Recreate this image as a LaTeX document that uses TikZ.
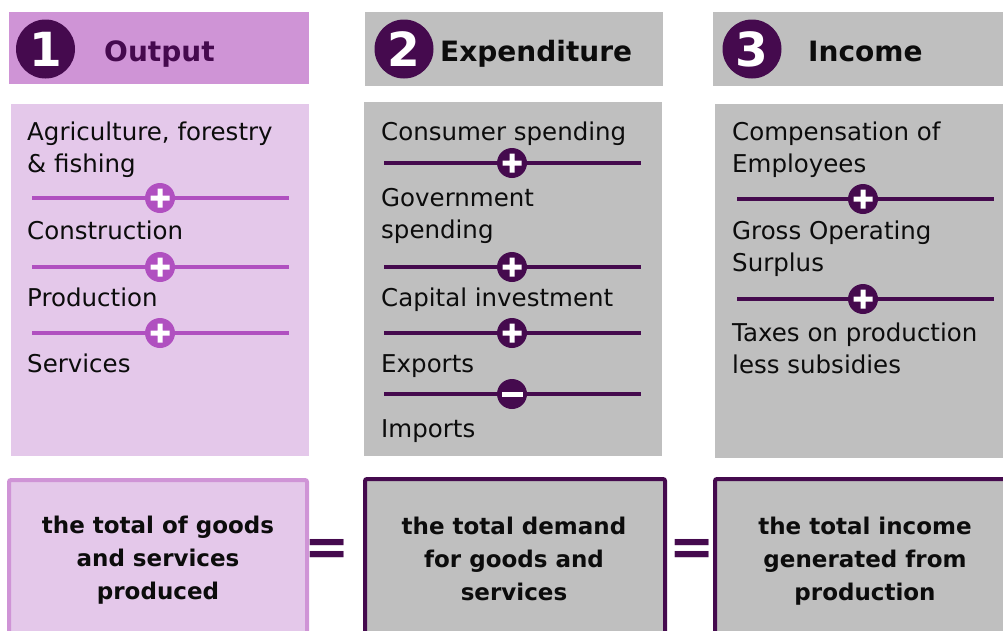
\documentclass[tikz,border=0pt]{standalone}
\usepackage{fontspec}
\setmainfont{DejaVu Sans}
\definecolor{plum}{RGB}{69,10,78}
\definecolor{orchid}{RGB}{207,148,214}
\definecolor{lilac}{RGB}{228,200,234}
\definecolor{violet}{RGB}{176,80,192}
\definecolor{panelgray}{RGB}{191,191,191}
\definecolor{ink}{RGB}{12,12,12}

\begin{document}
\begin{tikzpicture}[x=1pt,y=-1pt,
  item/.style={anchor=base west, inner sep=0pt, text=ink,
    font=\fontsize{24.5}{32}\selectfont},
  total/.style={anchor=base, inner sep=0pt, text=ink,
    font=\bfseries\fontsize{23}{33}\selectfont},
  head/.style={anchor=base west, inner sep=0pt,
    font=\bfseries\fontsize{28}{32}\selectfont},
  numdisc/.style={circle, fill=plum, minimum size=59pt, inner sep=0pt,
    text=white, font=\bfseries\fontsize{47}{47}\selectfont},
  eqsign/.style={inner sep=0pt, text=plum,
    font=\bfseries\fontsize{54}{54}\selectfont},
  sepline/.style={line width=4.5pt},
  opdisc/.style={circle, minimum size=30pt, inner sep=0pt},
  plussign/.style={opdisc, path picture={
    \fill[white, shift={(path picture bounding box.center)}]
      (-9.5,-2.5) rectangle (9.5,2.5) (-2.5,-9.5) rectangle (2.5,9.5);}},
  minussign/.style={opdisc, path picture={
    \fill[white, shift={(path picture bounding box.center)}]
      (-10.5,-2.5) rectangle (10.5,2.5);}}
]
\useasboundingbox (0,0) rectangle (1003,630);
\clip (0,0) rectangle (1003,630);

% ---------- column headers ----------
\fill[orchid] (9,12) rectangle (309,84);
\fill[panelgray] (365,12) rectangle (663,86);
\fill[panelgray] (713,12) rectangle (1010,86);
\node[numdisc] (n1) at (45.5,49) {1};
\node[numdisc] (n2) at (404,49) {2};
\node[numdisc] (n3) at (752,49) {3};
\node[head, text=plum] (t1) at (104,61) {Output};
\node[head, text=ink] (t2) at (440,61) {Expenditure};
\node[head, text=ink] (t3) at (808,61) {Income};

% ---------- component panels ----------
\fill[lilac] (11,104) rectangle (309,456);
\fill[panelgray] (364,102) rectangle (662,456);
\fill[panelgray] (715,104) rectangle (1010,458);

% output components
\node[item] (o1) at (27,140) {\begin{tabular}[t]{@{}l@{}}Agriculture, forestry\\\& fishing\end{tabular}};
\node[item] (o2) at (27,239) {Construction};
\node[item] (o3) at (27,306) {Production};
\node[item] (o4) at (27,372) {Services};
\foreach \y/\n in {198/a1,267/a2,333/a3} {
  \coordinate (\n-l) at (32,\y);
  \coordinate (\n-r) at (289,\y);
  \draw[sepline, violet] (\n-l) -- (\n-r);
  \node[plussign, fill=violet] (\n) at (160,\y) {};
}

% expenditure components
\node[item] (x1) at (381,140) {Consumer spending};
\node[item] (x2) at (381,206) {\begin{tabular}[t]{@{}l@{}}Government\\spending\end{tabular}};
\node[item] (x3) at (381,306) {Capital investment};
\node[item] (x4) at (381,372) {Exports};
\node[item] (x5) at (381,437) {Imports};
\foreach \y/\n in {163/b1,267/b2,333/b3,394/b4} {
  \coordinate (\n-l) at (384,\y);
  \coordinate (\n-r) at (641,\y);
  \draw[sepline, plum] (\n-l) -- (\n-r);
}
\node[plussign, fill=plum] (b1) at (512,163) {};
\node[plussign, fill=plum] (b2) at (512,267) {};
\node[plussign, fill=plum] (b3) at (512,333) {};
\node[minussign, fill=plum] (b4) at (512,394) {};

% income components
\node[item] (i1) at (732,140) {\begin{tabular}[t]{@{}l@{}}Compensation of\\Employees\end{tabular}};
\node[item] (i2) at (732,239) {\begin{tabular}[t]{@{}l@{}}Gross Operating\\Surplus\end{tabular}};
\node[item] (i3) at (732,341) {\begin{tabular}[t]{@{}l@{}}Taxes on production\\less subsidies\end{tabular}};
\foreach \y/\n in {199/c1,299/c2} {
  \coordinate (\n-l) at (737,\y);
  \coordinate (\n-r) at (994,\y);
  \draw[sepline, plum] (\n-l) -- (\n-r);
  \node[plussign, fill=plum] (\n) at (863,\y) {};
}

% ---------- totals ----------
\draw[line width=4pt, orchid, fill=lilac, rounded corners=2pt] (9,480) rectangle (307,660);
\draw[line width=4pt, plum, fill=panelgray, rounded corners=2pt] (365,479) rectangle (665,660);
\draw[line width=4pt, plum, fill=panelgray, rounded corners=2pt] (715,479) rectangle (1030,660);

\node[total] (s1) at (158,533) {\begin{tabular}[t]{@{}c@{}}the total of goods\\and services\\produced\end{tabular}};
\node[total] (s2) at (514,534) {\begin{tabular}[t]{@{}c@{}}the total demand\\for goods and\\services\end{tabular}};
\node[total] (s3) at (865,534) {\begin{tabular}[t]{@{}c@{}}the total income\\generated from\\production\end{tabular}};

\node[eqsign] (e1) at (327.5,552) {=};
\node[eqsign] (e2) at (692,552) {=};
\end{tikzpicture}
\end{document}
